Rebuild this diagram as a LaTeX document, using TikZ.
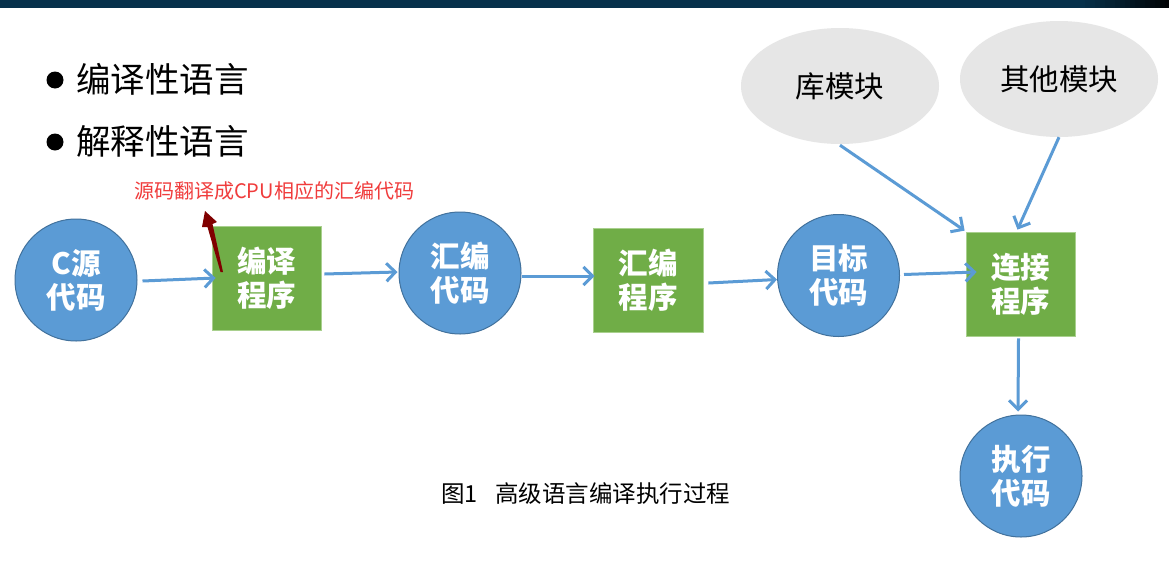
\documentclass[tikz,border=0pt]{standalone}
\usepackage{fontspec}
\setmainfont{Noto Sans CJK SC}
\usetikzlibrary{arrows.meta,shapes.geometric}
\definecolor{cblue}{HTML}{5B9BD5}
\definecolor{cblueborder}{HTML}{41719C}
\definecolor{cgreen}{HTML}{70AD47}
\definecolor{cgreenborder}{HTML}{A9D08E}
\definecolor{cgray}{HTML}{E6E6E6}
\definecolor{cbar}{HTML}{07314B}
\definecolor{cred}{RGB}{240,60,60}
\definecolor{cdarkred}{RGB}{128,0,0}
\tikzset{
  circ/.style={circle,fill=cblue,draw=cblueborder,line width=1pt,minimum size=122pt,inner sep=0pt,
    text=white,font=\fontsize{29.5}{34}\selectfont\bfseries,align=center},
  boxnode/.style={rectangle,fill=cgreen,draw=cgreenborder,line width=0.8pt,inner sep=0pt,
    text=white,font=\fontsize{29.5}{34}\selectfont\bfseries,align=center},
  ell/.style={ellipse,fill=cgray,draw=none,minimum width=198pt,minimum height=116pt,inner sep=0pt,
    font=\fontsize{29.5}{34}\selectfont},
  arr/.style={draw=cblue,line width=3pt,-{Straight Barb[length=9pt,width=18pt]}},
}
\begin{document}
\begin{tikzpicture}[x=1pt,y=-1pt]
\useasboundingbox (0,0) rectangle (1169,565);
\fill[white] (0,0) rectangle (1169,565);
% top bar
\fill[cbar] (0,0) rectangle (1169,7.5);
\foreach \i in {0,...,17}{
  \pgfmathsetmacro{\pct}{100-\i*5.5}
  \fill[cbar!\pct!black] (1080+\i*5,0) rectangle (1085.5+\i*5,7.5);
}

% bullets
\fill[black] (55,80) circle (8.5);
\fill[black] (55,142) circle (8.5);
\node[anchor=west,inner sep=0pt,font=\fontsize{34.5}{40}\selectfont] (b1) at (76,79) {编译性语言};
\node[anchor=west,inner sep=0pt,font=\fontsize{34.5}{40}\selectfont] (b2) at (76,141) {解释性语言};

% red annotation
\node[anchor=west,inner sep=0pt,text=cred,font=\fontsize{20}{24}\selectfont] (note) at (134,191) {源码翻译成CPU相应的汇编代码};

% nodes
\node[circ] (c) at (76,280) {C源\\代码};
\node[boxnode,minimum width=109pt,minimum height=104pt] (bianyi) at (266.5,278) {编译\\程序};
\node[circ] (hbdm) at (460,273) {汇编\\代码};
\node[boxnode,minimum width=110pt,minimum height=104pt] (hbcx) at (648,280) {汇编\\程序};
\node[circ] (mb) at (838.5,275.5) {目标\\代码};
\node[boxnode,minimum width=109pt,minimum height=104pt] (lj) at (1020.5,284) {连接\\程序};
\node[circ] (zx) at (1021,476) {执行\\代码};
\node[ell] (ku) at (840,86) {库模块};
\node[ell] (qt) at (1059,79) {其他模块};

% annotation arrow
\coordinate (rtip) at (205,211);
\fill[cdarkred] (rtip) -- (217,222) -- (212.5,224) -- (223,272) -- (220.5,272) -- (207.5,227) -- (202,227) -- cycle;

% caption
\node[anchor=west,inner sep=0pt,font=\fontsize{23.5}{28}\selectfont] (cap) at (441,494) {图1\hspace{0.75em}高级语言编译执行过程};

% connectors
\draw[arr] ([shift={(5,1)}]c.east) -- ([shift={(4,0)}]bianyi.west);
\draw[arr] ([shift={(3,-4)}]bianyi.east) -- ([shift={(-1,-1)}]hbdm.west);
\draw[arr] ([shift={(0,3)}]hbdm.east) -- ([shift={(2,-4)}]hbcx.west);
\draw[arr] ([shift={(5,3)}]hbcx.east) -- ([shift={(0,4)}]mb.west);
\draw[arr] ([shift={(4,-1)}]mb.east) -- ([shift={(11,-12)}]lj.west);
\draw[arr] ([shift={(0,1)}]ku.south) -- ([shift={(-1,-1)}]lj.north west);
\draw[arr] ([shift={(0,0)}]qt.south) -- ([shift={(-3,-2)}]lj.north);
\draw[arr] ([shift={(-2,2)}]lj.south) -- ([shift={(-3,-3)}]zx.north);
\end{tikzpicture}
\end{document}
